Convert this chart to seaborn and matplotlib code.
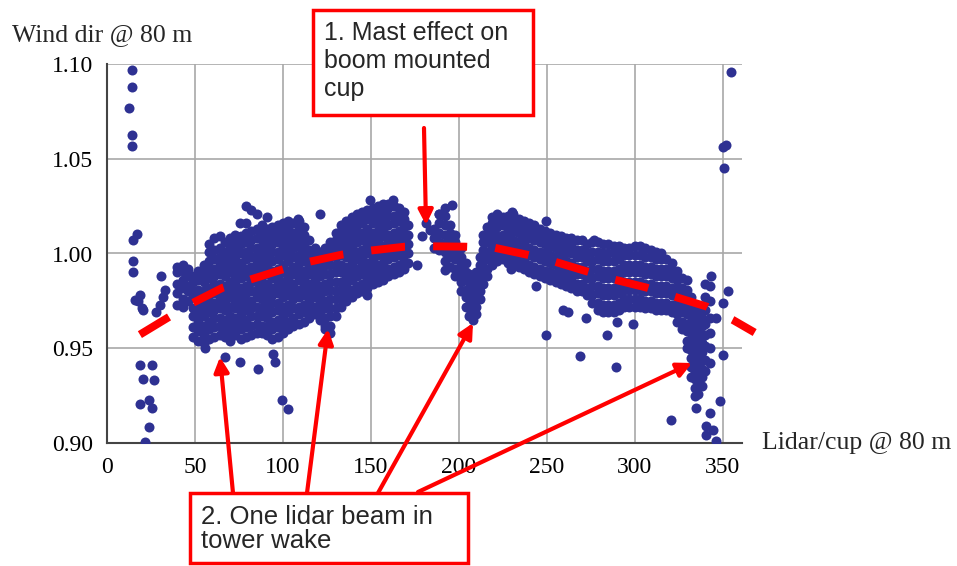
import numpy as np
import pandas as pd
import seaborn as sns
import matplotlib.pyplot as plt
from matplotlib.patches import Rectangle

# single scattered points (direction, ratio)
iso_x = [14, 14, 12.7, 14, 14, 17.2, 15, 15, 15, 16, 17.6, 19.7, 20.6, 18.5,
         30.5, 33, 32, 30, 28, 18.8, 25.4, 20.6, 26.7, 18.8, 24, 25.4, 24, 21.6,
         55.7, 67, 75.6, 86, 94.5, 95.5, 79, 82, 85, 91, 75.6, 99.4, 103,
         121, 108.7, 147.6, 176, 178.8, 181.6, 183.5, 189, 196, 149.4, 162.5, 127, 124,
         192, 229.9, 244, 249.4, 249.4, 259, 262, 272.5, 268.7, 230,
         284, 289.5, 320.8, 335, 342.6, 340.7, 340.7, 344.5, 348.3, 346.4,
         350.2, 353, 350, 346.4, 343.5, 355, 350.2, 352, 351, 277, 290, 299]
iso_y = [1.097, 1.088, 1.077, 1.0626, 1.0568, 1.0104, 1.007, 0.996, 0.990, 0.9757, 0.975, 0.9715, 0.970, 0.978,
         0.988, 0.981, 0.977, 0.973, 0.969, 0.9414, 0.941, 0.934, 0.9335, 0.9207, 0.9226, 0.9186, 0.9084, 0.9005,
         0.950, 0.9456, 0.943, 0.939, 0.947, 0.9425, 1.025, 1.023, 1.021, 1.019, 1.016, 0.9226, 0.9177,
         1.021, 1.018, 0.978, 0.994, 1.009, 1.016, 1.0125, 1.021, 1.0257, 1.028, 1.028, 0.958, 0.960,
         0.9915, 0.992, 0.983, 0.957, 1.017, 0.970, 0.969, 0.966, 0.946, 1.022,
         0.957, 0.940, 0.912, 0.9186, 0.916, 0.909, 0.904, 0.907, 0.922, 0.901,
         0.9467, 0.980, 0.974, 0.966, 0.988, 1.096, 1.056, 1.057, 1.045, 1.007, 0.964, 0.963]

# dense cloud: ratios (x1000) read per direction column
col_x = [40, 43, 46, 49, 52, 55, 58, 61, 64, 67, 70, 73, 76, 79, 82, 85, 88, 91, 94, 97,
         100, 103, 106, 109, 112, 115, 118, 121, 124, 127, 130, 133, 136, 139, 142, 145,
         148, 151, 154, 157, 160, 163, 166, 169, 171,
         186, 189, 192, 195, 198, 201, 204, 206, 208, 210, 212, 214, 216, 219, 222, 225,
         228, 231, 234, 237, 240, 243, 246, 249, 252, 255, 258, 261, 264, 267, 270, 273,
         276, 279, 282, 285, 288, 291, 294, 297, 300, 303, 306, 309, 312, 315, 318, 321,
         324, 327, 330, 332, 334, 336, 338, 340, 343]
col_y = [
    [973, 979, 984, 990, 993],
    [972, 976, 982, 986, 991, 994],
    [975, 980, 983, 988, 992],
    [956, 961, 967, 971, 977, 980, 985, 988],
    [954, 959, 964, 968, 972, 978, 981, 986, 991],
    [953, 957, 962, 967, 971, 975, 980, 985, 989, 994],
    [955, 960, 964, 969, 974, 978, 982, 987, 992, 996, 1001, 1005],
    [956, 961, 966, 970, 974, 979, 984, 988, 992, 997, 1002, 1008],
    [957, 962, 966, 971, 976, 980, 984, 989, 994, 998, 1003, 1009],
    [956, 960, 965, 970, 974, 978, 983, 988, 992, 996, 1001, 1006],
    [954, 958, 963, 967, 972, 977, 981, 985, 990, 995, 999, 1004, 1008],
    [957, 961, 966, 971, 975, 979, 984, 988, 993, 997, 1002, 1006, 1010],
    [955, 960, 964, 968, 973, 977, 982, 987, 991, 995, 1000, 1005, 1009],
    [956, 961, 965, 970, 975, 979, 983, 988, 992, 997, 1001, 1006, 1011, 1016],
    [957, 962, 967, 971, 975, 980, 985, 989, 993, 998, 1003, 1007, 1012],
    [958, 963, 967, 972, 977, 981, 985, 990, 995, 999, 1003, 1008, 1013],
    [958, 962, 967, 971, 976, 981, 985, 989, 994, 998, 1003, 1007, 1012, 1015],
    [957, 961, 966, 970, 975, 979, 984, 989, 993, 997, 1002, 1006, 1010, 1013],
    [955, 960, 964, 969, 974, 978, 982, 987, 991, 996, 1001, 1005, 1009, 1014],
    [956, 961, 965, 970, 974, 979, 984, 988, 992, 997, 1001, 1006, 1011, 1015],
    [958, 963, 967, 972, 977, 981, 985, 990, 994, 999, 1004, 1008, 1012, 1016],
    [960, 964, 969, 973, 978, 983, 987, 991, 996, 1000, 1005, 1009, 1014, 1017],
    [962, 966, 971, 976, 980, 984, 989, 993, 998, 1003, 1007, 1011, 1016],
    [963, 968, 972, 977, 981, 986, 991, 995, 999, 1004, 1008, 1013, 1017],
    [964, 969, 973, 978, 983, 987, 991, 996, 1000, 1005, 1010, 1014],
    [966, 970, 975, 979, 984, 989, 993, 997, 1002, 1007],
    [968, 972, 977, 982, 986, 990, 995, 999, 1003],
    [965, 969, 974, 978, 983, 988, 992, 996, 1001],
    [962, 966, 971, 975, 980, 984, 989, 994, 998, 1003],
    [962, 967, 971, 976, 981, 985, 989, 994, 998, 1002, 1006],
    [967, 971, 976, 980, 985, 990, 994, 998, 1003, 1007, 1011],
    [972, 976, 981, 985, 990, 994, 999, 1004, 1008, 1012, 1015],
    [975, 979, 984, 988, 993, 998, 1002, 1006, 1011, 1015, 1017],
    [977, 981, 986, 991, 995, 999, 1004, 1008, 1013, 1017, 1019],
    [979, 983, 988, 992, 997, 1001, 1006, 1011, 1015, 1019, 1021],
    [980, 984, 989, 994, 998, 1002, 1007, 1011, 1016, 1020, 1022],
    [982, 986, 991, 995, 1000, 1005, 1009, 1013, 1018, 1023],
    [984, 988, 993, 997, 1002, 1006, 1011, 1016, 1020, 1024],
    [985, 989, 994, 999, 1003, 1007, 1012, 1016, 1021, 1025],
    [986, 990, 995, 999, 1004, 1009, 1013, 1017, 1022, 1026],
    [988, 992, 997, 1001, 1006, 1010, 1015, 1020, 1024, 1026],
    [989, 993, 998, 1002, 1007, 1011, 1016, 1020, 1025],
    [990, 994, 999, 1004, 1008, 1012, 1017, 1021, 1024],
    [992, 996, 1001, 1005, 1010, 1014, 1018, 1022],
    [995, 1000, 1005, 1010, 1015],
    [1003, 1008, 1013],
    [1002, 1006, 1011, 1016, 1021],
    [996, 1001, 1005, 1010, 1015, 1020, 1024],
    [993, 998, 1002, 1007, 1011, 1015],
    [988, 992, 997, 1001, 1006, 1010],
    [980, 985, 989, 994, 998, 1003],
    [972, 977, 981, 986, 990, 995],
    [967, 971, 976, 980, 985, 989],
    [965, 969, 973, 978, 982, 986],
    [968, 972, 977, 981, 986, 990],
    [976, 980, 985, 989, 994, 998],
    [984, 988, 993, 997, 1002, 1006, 1010],
    [988, 992, 997, 1001, 1006, 1010, 1014],
    [994, 998, 1003, 1007, 1012, 1016, 1019],
    [996, 1000, 1005, 1009, 1014, 1018, 1021],
    [997, 1001, 1006, 1010, 1015, 1019],
    [995, 999, 1004, 1008, 1013, 1017, 1020],
    [994, 998, 1003, 1007, 1012, 1016, 1021],
    [993, 997, 1002, 1006, 1011, 1015, 1018],
    [992, 996, 1001, 1005, 1010, 1014, 1017],
    [990, 994, 999, 1003, 1008, 1012, 1016],
    [989, 993, 998, 1002, 1007, 1011, 1015],
    [988, 992, 997, 1001, 1006, 1010, 1013],
    [987, 991, 996, 1000, 1005, 1009, 1012],
    [986, 990, 995, 999, 1004, 1008, 1011],
    [985, 989, 994, 998, 1003, 1007, 1010],
    [984, 988, 993, 997, 1002, 1006, 1009],
    [983, 987, 992, 996, 1001, 1005, 1008],
    [982, 986, 991, 995, 1000, 1004, 1008],
    [980, 984, 989, 993, 998, 1002, 1007],
    [980, 984, 989, 993, 998, 1002, 1007],
    [978, 982, 987, 991, 996, 1000, 1005],
    [974, 978, 983, 987, 992, 996, 1001, 1006],
    [970, 974, 979, 983, 988, 992, 997, 1001, 1006],
    [969, 973, 978, 982, 987, 991, 996, 1000, 1005],
    [969, 973, 978, 982, 987, 991, 996, 1000, 1005],
    [969, 973, 978, 982, 987, 991, 996, 1000, 1004],
    [970, 974, 979, 983, 988, 992, 997, 1001, 1004],
    [972, 976, 981, 985, 990, 994, 999, 1003],
    [972, 976, 981, 985, 990, 994, 999, 1003],
    [972, 976, 981, 985, 990, 994, 999, 1004],
    [972, 976, 981, 985, 990, 994, 999, 1004],
    [971, 975, 980, 984, 989, 993, 998, 1003],
    [971, 975, 980, 984, 989, 993, 998, 1002],
    [970, 974, 979, 983, 988, 992, 997, 1001],
    [970, 974, 979, 983, 988, 992, 997, 1000],
    [970, 974, 979, 983, 988, 992, 997],
    [969, 973, 978, 982, 987, 991, 995],
    [964, 968, 973, 977, 982, 986, 991],
    [960, 964, 969, 973, 978, 982, 987],
    [950, 954, 959, 963, 968, 972, 977, 981, 986],
    [935, 940, 945, 949, 954, 958, 963, 967, 972, 977],
    [925, 929, 934, 938, 943, 947, 952, 956, 961, 965, 970],
    [926, 931, 935, 940, 944, 949, 953, 958, 962, 967, 972],
    [930, 935, 939, 944, 948, 953, 957, 962, 966, 971],
    [938, 944, 951, 957, 963, 970, 977, 984],
    [942, 950, 958, 966, 975, 983],
]

# red dashed fit curve
fit_x = [18.7, 34.7, 48.9, 65.9, 81.3, 99.4, 115.3, 133.5, 149.4, 169.3, 184.7,
         203.4, 220.5, 238.6, 254.5, 273.3, 288.6, 306.8, 322.7, 340.9, 355.7, 368.2]
fit_y = [0.9572, 0.9662, 0.974, 0.982, 0.9862, 0.9915, 0.9957, 0.9994, 1.0015, 1.0036, 1.0038,
         1.0036, 1.003, 0.9994, 0.9957, 0.9904, 0.9862, 0.982, 0.9772, 0.972, 0.965, 0.9583]

xticks = [0, 50, 100, 150, 200, 250, 300, 350]
yticks = [0.90, 0.95, 1.00, 1.05, 1.10]

rows = [(x, v / 1000) for x, vals in zip(col_x, col_y) for v in vals]
df = pd.DataFrame(rows + list(zip(iso_x, iso_y)), columns=['dir', 'ratio'])

sns.set_theme(style='white')
plt.rcParams['font.family'] = ['Liberation Serif', 'DejaVu Serif']

W, H = 957, 566
fig = plt.figure(figsize=(W / 100, H / 100), dpi=100)
ax = fig.add_axes([107 / W, 1 - 443 / H, 635 / W, 379 / H])


def fp(x, y):
    # pixel position from the top-left corner -> figure fraction
    return (x / W, 1 - y / H)


sns.scatterplot(data=df, x='dir', y='ratio', color='#2e3192', s=52, linewidth=0,
                ax=ax, zorder=3)
ax.plot(fit_x, fit_y, color='red', lw=5.7, ls=(0, (4.3, 3.55)), dash_capstyle='butt',
        clip_on=False, zorder=4)

ax.set_xlim(0, 361)
ax.set_ylim(0.90, 1.10)
ax.set_xticks(xticks)
ax.set_yticks(yticks)
ax.set_yticklabels([f'{t:.2f}' for t in yticks])
ax.set_xticks(np.arange(0, 361, 10), minor=True)
ax.set_yticks(np.arange(0.90, 1.10, 0.01), minor=True)
ax.grid(True, which='major', color='#a8a8a8', lw=1.2)
ax.set_axisbelow(True)
ax.tick_params(which='both', direction='in', color='#444444', width=1.2,
               labelsize=17, pad=10, labelcolor='black')
ax.tick_params(which='major', length=6)
ax.tick_params(which='minor', length=5)
for s in ['top', 'right']:
    ax.spines[s].set_visible(False)
for s in ['left', 'bottom']:
    ax.spines[s].set_color('#444444')
    ax.spines[s].set_linewidth(1.5)
ax.set_xlabel('')
ax.set_ylabel('')

fig.text(*fp(12, 35), 'Wind dir @ 80 m', va='center', ha='left', fontsize=18.5)
fig.text(*fp(762, 443), 'Lidar/cup @ 80 m', va='center', ha='left', fontsize=18.5)

# annotation boxes
fig.patches.append(Rectangle(fp(313, 115), 220 / W, 105 / H, transform=fig.transFigure,
                             fc='white', ec='red', lw=2.5, zorder=5))
fig.text(*fp(324, 21), '1. Mast effect on\nboom mounted\ncup', va='top', ha='left',
         fontsize=18, family='Liberation Sans', linespacing=1.2, zorder=6)
fig.patches.append(Rectangle(fp(190, 563), 278 / W, 70 / H, transform=fig.transFigure,
                             fc='white', ec='red', lw=2.5, zorder=5))
fig.text(*fp(201, 505), '2. One lidar beam in\ntower wake', va='top', ha='left',
         fontsize=18.5, family='Liberation Sans', linespacing=1.0, zorder=6)

arrows = [((424, 128), (426, 225)),
          ((233, 493), (220, 357)),
          ((307, 493), (328, 329)),
          ((378, 493), (473, 323)),
          ((418, 492), (692, 363))]
for tail, tip in arrows:
    ax.annotate('', xy=fp(*tip), xytext=fp(*tail), xycoords='figure fraction',
                textcoords='figure fraction', annotation_clip=False,
                arrowprops=dict(arrowstyle='-|>', color='red', lw=3, mutation_scale=22,
                                shrinkA=0, shrinkB=0), zorder=4)

fig.savefig('out.png', dpi=100)
